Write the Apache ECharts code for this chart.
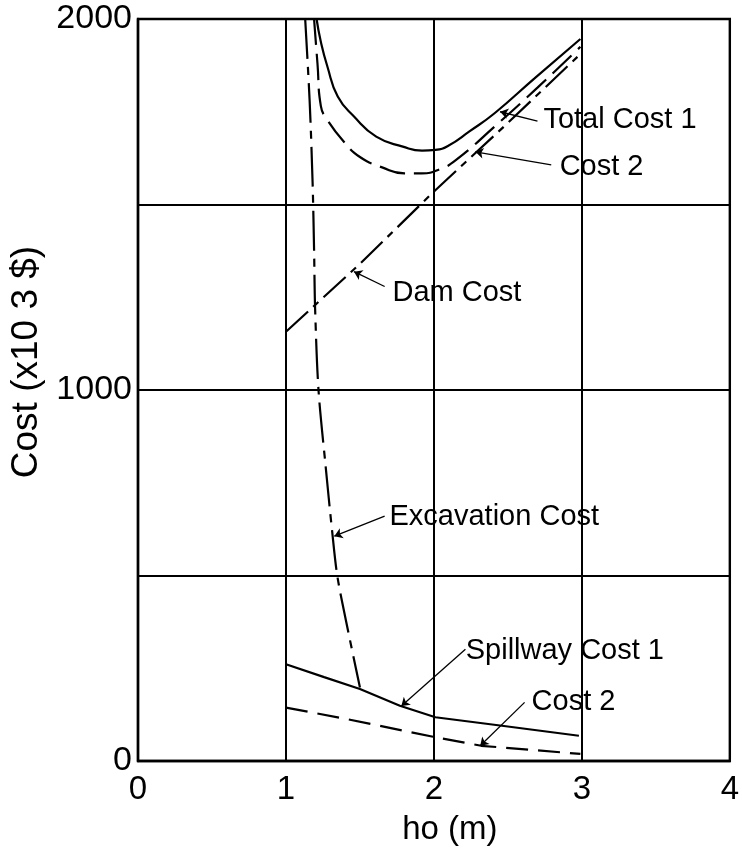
<!DOCTYPE html>
<html>
<head>
<meta charset="utf-8">
<script src="https://cdn.jsdelivr.net/npm/echarts@6/dist/echarts.min.js"></script>
<style>
html,body{margin:0;padding:0;background:#fff;}
#chart{width:742px;height:851px;}
</style>
</head>
<body>
<div id="chart"></div>
<script>
// ---- data (x = ho in m, y = cost in 10^3 $) ----
const xTicks = [0, 1, 2, 3, 4];
const yTickLabels = [0, 1000, 2000];

const totalCost1 = [[1.207,2000],[1.235,1940],[1.28,1872],[1.35,1791],[1.46,1737],[1.61,1683],[1.79,1656],[1.92,1645],[2.01,1647],[2.1,1659],[2.24,1697],[2.41,1746],[2.68,1840],[2.99,1946]];
const totalCost2 = [[1.19,2000],[1.213,1880],[1.236,1765],[1.28,1728],[1.39,1670],[1.5,1628],[1.65,1600],[1.8,1584],[1.92,1584],[2.04,1595],[2.15,1620],[2.41,1710],[2.7,1815],[2.99,1925]];
const damCost = [[1,1157],[1.5,1340],[2,1535],[2.5,1720],[2.97,1898]];
const excavationCost = [[1.13,2000],[1.16,1780],[1.18,1560],[1.19,1380],[1.197,1220],[1.22,1000],[1.268,795],[1.313,616],[1.347,499],[1.413,364],[1.5,198]];
const spillwayCost1 = [[1,261],[1.258,226],[1.5,194],[1.77,149],[2.01,118],[2.46,95],[2.98,68]];
const spillwayCost2 = [[1,144],[1.41,113],[2.01,64],[2.32,41],[2.99,19]];

// annotation labels: text, curve point, leader end, text anchor
const annoText = ['Total Cost 1', 'Cost 2', 'Dam Cost', 'Excavation Cost', 'Spillway Cost 1', 'Cost 2'];
const annoFrom = [[2.447,1750],[2.28,1642],[1.46,1319],[1.327,606],[1.78,148],[2.313,41]];
const annoTo   = [[2.70,1725],[2.793,1607],[1.667,1279],[1.667,660],[2.213,301],[2.613,158]];
const annoAt   = [[2.74,1728],[2.85,1602],[1.72,1262],[1.70,657],[2.215,296],[2.66,158]];

const FONT = '"Liberation Sans", Arial, sans-serif';
const chart = echarts.init(document.getElementById('chart'), null, {renderer: 'canvas'});

function curve(name, data, type, smooth) {
  return {
    name, type: 'line', data, smooth: smooth || false,
    symbol: 'none', clip: true, silent: true,
    lineStyle: {color: '#000', width: 2.2, type}
  };
}

chart.setOption({
  animation: false,
  backgroundColor: '#fff',
  grid: {left: 138, right: 4, top: 19, bottom: 89, show: true, borderColor: '#000', borderWidth: 2.4, backgroundColor: 'transparent'},
  xAxis: {
    type: 'value', min: xTicks[0], max: xTicks[xTicks.length - 1], interval: 1,
    name: 'ho (m)', nameLocation: 'middle', nameGap: 52,
    nameTextStyle: {fontFamily: FONT, fontSize: 33, color: '#000', padding: [0, 0, 0, 32]},
    axisLine: {show: true, lineStyle: {color: '#000', width: 2.4}},
    axisTick: {show: false},
    axisLabel: {fontFamily: FONT, fontSize: 33, color: '#000', margin: 12,
      formatter: v => xTicks.includes(v) ? String(v) : ''},
    splitLine: {show: true, lineStyle: {color: '#000', width: 2}}
  },
  yAxis: {
    type: 'value', min: 0, max: 2000, interval: 500,
    name: 'Cost (x10 3 $)', nameLocation: 'middle', nameRotate: 90, nameGap: 90,
    nameTextStyle: {fontFamily: FONT, fontSize: 37, color: '#000', padding: [0, 0, 0, 56]},
    axisLine: {show: true, lineStyle: {color: '#000', width: 2.4}},
    axisTick: {show: false},
    axisLabel: {fontFamily: FONT, fontSize: 34, color: '#000', margin: 6,
      formatter: v => yTickLabels.includes(v) ? String(v) : ''},
    splitLine: {show: true, lineStyle: {color: '#000', width: 2}}
  },
  series: [
    curve('Total Cost 1', totalCost1, 'solid', 0.5),
    curve('Total Cost 2', totalCost2, [26, 9], 0.5),
    curve('Dam Cost', damCost, [30, 7, 7, 7], false),
    curve('Excavation Cost', excavationCost, [40, 8, 8, 8], 0.3),
    curve('Spillway Cost 1', spillwayCost1, 'solid', false),
    curve('Spillway Cost 2', spillwayCost2, [22, 10], false),
    {
      type: 'lines', coordinateSystem: 'cartesian2d', silent: true,
      symbol: ['arrow', 'none'], symbolSize: 8,
      lineStyle: {color: '#000', width: 1.3, opacity: 1},
      data: annoFrom.map((p, i) => ({coords: [p, annoTo[i]]}))
    },
    {
      type: 'scatter', symbolSize: 0, silent: true, clip: false,
      itemStyle: {color: '#000', opacity: 1},
      emphasis: {disabled: true},
      data: annoAt.map((p, i) => ({value: p, name: annoText[i]})),
      label: {show: true, position: 'right', distance: 0, formatter: p => p.name,
        fontFamily: FONT, fontSize: 29, color: '#000', opacity: 1}
    }
  ]
});
</script>
</body>
</html>
